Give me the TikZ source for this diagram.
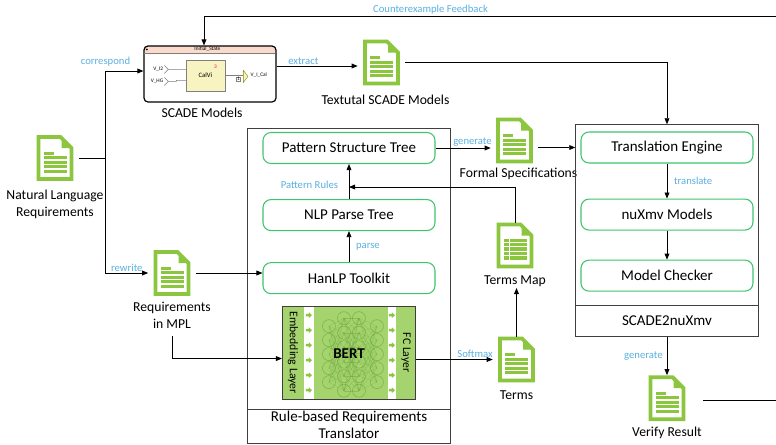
\documentclass[tikz,border=0pt]{standalone}
\usepackage{fontspec}
\setmainfont{Carlito}
\usepackage{tikz}
\usetikzlibrary{arrows.meta, positioning, fit, calc}

\definecolor{docgreen}{HTML}{8CC63F}
\definecolor{boxgreen}{HTML}{3EC46D}
\definecolor{lblblue}{HTML}{5AAFE0}
\definecolor{framegray}{HTML}{3F3F3F}
\definecolor{statepink}{HTML}{FADBCB}
\definecolor{calyellow}{HTML}{F8F4C2}
\definecolor{bertgreen}{HTML}{A5D46F}
\definecolor{netgreen}{HTML}{5E9A2E}

% Document icon parts, pixel units from the top left corner
\newcommand{\docoutline}{%
  \draw[docgreen, line width=2.8pt, fill=white, line join=miter]
    (2,2) -- (24,2) -- (35,13) -- (35,44) -- (2,44) -- cycle;
  \fill[docgreen] (25,5) -- (25,13) -- (33,13) -- cycle;
}
\newcommand{\docbars}{%
  \fill[docgreen] (7,16.5) rectangle (17,19.5);
  \foreach \yb in {21,25.5,30,34.5}
    \fill[docgreen] (7,\yb) rectangle (30,\yb+3);
}
\newcommand{\docgrid}{%
  \fill[docgreen] (7,16) rectangle (30,37);
  \foreach \yb in {20.2,24.4,28.6,32.8}
    \draw[white, line width=0.7pt] (7,\yb) -- (30,\yb);
  \draw[white, line width=0.7pt] (12.5,16) -- (12.5,37);
}

\tikzset{
  % Document icons
  docbase/.style={
    rectangle, minimum width=27.75pt, minimum height=34.5pt,
    inner sep=0pt, outer xsep=4pt, outer ysep=0pt,
  },
  pics/docpage/.style={code={
    \begin{scope}[shift={(-18.5,-23)}]
      \docoutline \docbars
    \end{scope}}},
  pics/docsheet/.style={code={
    \begin{scope}[shift={(-18.5,-23)}]
      \docoutline \docgrid
    \end{scope}}},
  doclabel/.style={font=\fontsize{10.25}{12.75}\selectfont, align=center, inner sep=1pt},
  % Processing steps
  stepbox/.style={
    rectangle, rounded corners=6pt, draw=boxgreen, line width=0.8pt,
    minimum width=129pt, minimum height=23.25pt,
    font=\fontsize{11.25}{13.5}\selectfont,
  },
  % Tool frames
  toolframe/.style={rectangle, draw=framegray, line width=0.8pt},
  framelabel/.style={font=\fontsize{11.25}{12.75}\selectfont, align=center, inner sep=1pt},
  % SCADE model view
  scadebox/.style={
    rectangle, rounded corners=3pt, draw=black, line width=0.9pt,
    minimum width=99pt, minimum height=42pt, inner sep=0pt,
    path picture={\fill[statepink] (path picture bounding box.north west)
      rectangle ([yshift=-6pt]path picture bounding box.north east);},
  },
  tinytext/.style={font=\fontsize{4}{4.5}\selectfont, inner sep=0pt},
  calbox/.style={
    rectangle, draw=gray, line width=0.3pt, fill=calyellow,
    minimum width=29.25pt, minimum height=23.25pt, inner sep=0pt,
    font=\fontsize{5}{6}\selectfont,
  },
  % BERT block
  bertbox/.style={
    rectangle, draw=framegray, line width=0.8pt, fill=bertgreen,
    minimum width=99.75pt, minimum height=69.75pt, inner sep=0pt,
  },
  layertext/.style={rotate=-90, font=\fontsize{8.8}{10}\selectfont, inner sep=0pt},
  netline/.style={draw=netgreen, line width=0.2pt, opacity=0.35},
  neuron/.style={draw=netgreen, line width=0.4pt, opacity=0.6},
  % Arrows
  myarrow/.style={-{Triangle[length=4.5pt, width=3.6pt]}, line width=0.6pt, black},
  plainline/.style={line width=0.6pt, black},
  % Labels on arrows
  arrlabel/.style={font=\fontsize{8}{9.6}\selectfont, text=lblblue, inner sep=1pt},
}

\begin{document}
\begin{tikzpicture}[x=0.75pt, y=-0.75pt]
  \useasboundingbox (0,0) rectangle (776,444);
  \clip (0,0) rectangle (776,444);

  % Natural language input
  \node[docbase] (nlreq) at (55,158) {};
  \pic at (nlreq) {docpage};
  \node[doclabel, below=5.5pt of nlreq] (nlreqlabel) {Natural Language\\Requirements};

  % SCADE model view
  \node[scadebox] (scade) at (210,74) {};
  \node[doclabel, below=3pt of scade, xshift=-6pt] (scadelabel) {SCADE Models};
  \begin{scope}[shift={(scade.north west)}]
    \draw[gray, line width=0.3pt] (0.6,8) -- (131.4,8);
    \fill[black] (3.5,4) circle[radius=1];
    \node[tinytext] (statename) at (64,4) {Initial\_State};
    \node[calbox] (calvi) at (62,30) {CalVi};
    \node[tinytext, text=magenta] (calid) at (72,21) {3};
    \node[tinytext, anchor=east] (vinI) at (20,24) {V\_I2};
    \node[tinytext, anchor=east] (vinH) at (20,36) {V\_HG};
    \draw[gray, line width=0.4pt] (21,20) -- (25,24) -- (21,28) (25,24) -- (42.5,24);
    \draw[gray, line width=0.4pt] (21,32) -- (25,36) -- (21,40) (25,36) -- (33,36) -- (33,35) -- (42.5,35);
    \draw[gray, line width=0.4pt] (81.5,30) -- (100,30);
    \node[tinytext, draw=gray, line width=0.2pt, inner sep=0.4pt] (outport) at (95,33.5) {1};
    \filldraw[fill=calyellow, draw=olive, line width=0.3pt] (100,25) -- (104.5,31) -- (100,37) -- cycle;
    \node[tinytext, anchor=west] (vout) at (107,30) {V\_I\_Cal};
  \end{scope}

  % Textual models
  \node[docbase] (txtscade) at (381.5,62.5) {};
  \pic at (txtscade) {docpage};
  \node[doclabel, below=6pt of txtscade, xshift=3pt] (txtlabel) {Textutal SCADE Models};

  % Requirements in MPL
  \node[docbase] (mpl) at (172,273) {};
  \pic at (mpl) {docpage};
  \node[doclabel, below=3pt of mpl] (mpllabel) {Requirements\\in MPL};

  % Rule-based translator
  \node[stepbox] (pst) at (349,148) {Pattern Structure Tree};
  \node[stepbox, below=26.25pt of pst] (nlp) {NLP Parse Tree};
  \node[stepbox, below=23.25pt of nlp] (hanlp) {HanLP Toolkit};
  \node[bertbox, below=9pt of hanlp] (bert) {};
  \begin{scope}[shift={(bert.north west)}]
    % separators with small arrows
    \fill[white] (22,0.6) rectangle (32,92.4);
    \fill[white] (106,0.6) rectangle (114,92.4);
    \foreach \cx in {27,110}
      \foreach \ya in {9,24,39,54,69,84}
        \fill[docgreen] (\cx-3,\ya-1.2) rectangle (\cx,\ya+1.2)
          (\cx,\ya-2.8) -- (\cx+3,\ya) -- (\cx,\ya+2.8) -- cycle;
    % network edges and neurons
    \foreach \ya in {20,34,48,62,76}
      \foreach \yb in {12,26.5,41,55.5,70,84.5} {
        \draw[netline] (47,\ya) -- (62,\yb);
        \draw[netline] (95,\ya) -- (77,\yb);
      }
    \foreach \ya in {12,26.5,41,55.5,70,84.5}
      \foreach \yb in {12,26.5,41,55.5,70,84.5}
        \draw[netline] (62,\ya) -- (77,\yb);
    \foreach \ya in {20,34,48,62,76} {
      \draw[neuron] (47,\ya) circle[radius=6.5];
      \draw[neuron] (95,\ya) circle[radius=6.5];
    }
    \foreach \ya in {12,26.5,41,55.5,70,84.5} {
      \draw[neuron] (62,\ya) circle[radius=6.5];
      \draw[neuron] (77,\ya) circle[radius=6.5];
    }
    \node[layertext] (embtext) at (11,46.5) {Embedding Layer};
    \node[layertext] (fctext) at (124,46.5) {FC Layer};
  \end{scope}
  \node[font=\fontsize{11.25}{13.5}\selectfont\bfseries] (berttext) at (bert.center) {BERT};
  \node[framelabel, below=6.9pt of bert] (rbrtlabel) {Rule-based Requirements\\Translator};
  \node[toolframe, fit=(pst)(bert)(rbrtlabel), inner xsep=11.25pt, inner ysep=2.5pt] (rbrt) {};
  \draw[framegray, line width=0.8pt] (rbrt.west |- rbrtlabel.north) -- (rbrt.east |- rbrtlabel.north);

  % Intermediate files
  \node[docbase] (fspec) at (514.5,140.5) {};
  \pic at (fspec) {docpage};
  \node[doclabel, below=2.3pt of fspec, xshift=3pt] (fspeclabel) {Formal Specifications};
  \node[docbase] (tmap) at (515,245.5) {};
  \pic at (tmap) {docsheet};
  \node[doclabel, below=4pt of tmap] (tmaplabel) {Terms Map};
  \node[docbase] (terms) at (516.5,359.5) {};
  \pic at (terms) {docpage};
  \node[doclabel, below=4.7pt of terms] (termslabel) {Terms};

  % SCADE2nuXmv
  \node[stepbox] (te) at (667,147.5) {Translation Engine};
  \node[stepbox, below=26.25pt of te] (nux) {nuXmv Models};
  \node[stepbox, below=21.75pt of nux] (mc) {Model Checker};
  \node[framelabel, below=16.5pt of mc, text depth=2.5pt] (toollabel) {SCADE2nuXmv};
  \node[toolframe, fit=(te)(mc)(toollabel), inner xsep=3.5pt, inner ysep=5pt] (tool) {};
  \coordinate (tooldiv) at ([yshift=6pt]toollabel.north);
  \draw[framegray, line width=0.8pt] (tool.west |- tooldiv) -- (tool.east |- tooldiv);

  % Verification output
  \node[docbase, below=28.5pt of tool] (verify) {};
  \pic at (verify) {docpage};
  \node[doclabel, below=3.2pt of verify] (verifylabel) {Verify Result};

  % Arrows
  \coordinate (split) at ([xshift=20pt]nlreq.east);
  \draw[plainline] (nlreq.east) -- (split);
  \draw[myarrow] (split) |- ([yshift=2.25pt]scade.west) node[arrlabel, pos=0.5, above=2pt] (corrtext) {correspond};
  \draw[myarrow] (split) |- (mpl.west) node[arrlabel, pos=0.75, above] (rewritetext) {rewrite};
  \draw[myarrow] ([yshift=6pt]scade.east) -- ([yshift=6pt]scade.east -| txtscade.west) node[arrlabel, pos=0.33, above] (extracttext) {extract};
  \draw[myarrow] (txtscade.east) -| (tool.north);
  \draw[myarrow] (mpl.east) -- (mpl.east -| hanlp.west);
  \draw[myarrow] ([yshift=-5pt]mpllabel.south) |- ([yshift=-4pt]bert.west);
  \draw[myarrow] (hanlp) -- (nlp) node[arrlabel, midway, right=4pt] (parsetext) {parse};
  \draw[myarrow] (nlp) -- (pst);
  \coordinate (rulein) at ([yshift=9pt]nlp.north);
  \draw[myarrow] (tmap.north) |- (rulein);
  \node[arrlabel, left=7pt of rulein, yshift=2pt] (rulestext) {Pattern Rules};
  \draw[myarrow] (pst.east) -- (pst.east -| fspec.west) node[arrlabel, pos=0.67, above] (gentext) {generate};
  \draw[myarrow] (fspec.east |- te) -- (te -| tool.west);
  \draw[myarrow] (bert.east |- terms.west) -- (terms.west) node[arrlabel, pos=0.77, above] (softtext) {Softmax};
  \draw[myarrow] (terms.north) -- (terms.north |- tmaplabel.south);
  \draw[myarrow] (te) -- (nux) node[arrlabel, midway, right=4pt] (transtext) {translate};
  \draw[myarrow] (nux) -- (mc);
  \draw[myarrow] (tool.south) -- (verify.north) node[arrlabel, midway, left=2pt] (verifytext) {generate};

  % Feedback loop
  \coordinate (fbright) at (800,16);
  \draw[myarrow] ([xshift=9pt, yshift=-2pt]verify.east) -| (fbright) -| ([xshift=-4.5pt]scade.north)
    node[arrlabel, pos=0.31, above] (fbtext) {Counterexample Feedback};

\end{tikzpicture}
\end{document}
